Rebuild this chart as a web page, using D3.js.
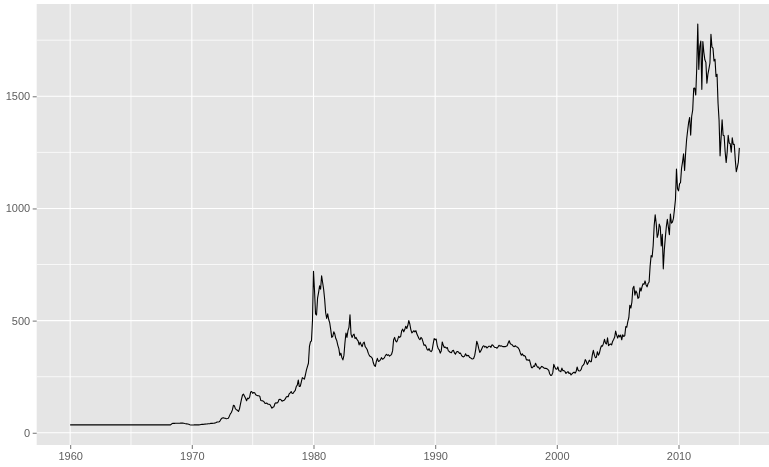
<!DOCTYPE html>
<html>
<head>
<meta charset="utf-8">
<script src="https://cdn.jsdelivr.net/npm/d3@7"></script>
<style>
  body { margin: 0; background: #fff; }
  svg { display: block; will-change: transform; }
  .tick text { font-family: "Liberation Sans", Arial, sans-serif; font-size: 11px; fill: #5e5e5e; }
</style>
</head>
<body>
<div id="chart"></div>
<script>
// monthly gold price (USD / oz), one array per decade, first value = January
var startYear = 1960;

var p1960s = [
  35.1,35.1,35.1,35.1,35.1,35.1,35.2,35.2,35.3,35.5,35.4,35.3,
  35.3,35.2,35.2,35.2,35.2,35.2,35.2,35.2,35.2,35.2,35.2,35.2,
  35.1,35.1,35.1,35.1,35.1,35.1,35.1,35.1,35.1,35.1,35.1,35.1,
  35.1,35.1,35.1,35.1,35.1,35.1,35.1,35.1,35.1,35.1,35.1,35.1,
  35.1,35.1,35.1,35.1,35.1,35.1,35.1,35.1,35.1,35.1,35.1,35.1,
  35.1,35.1,35.1,35.1,35.1,35.1,35.1,35.1,35.1,35.1,35.1,35.1,
  35.2,35.2,35.2,35.2,35.2,35.2,35.2,35.2,35.2,35.2,35.2,35.2,
  35.2,35.2,35.2,35.2,35.2,35.2,35.2,35.2,35.2,35.2,35.2,35.2,
  35.2,35.2,35.2,35.3,39.0,41.8,42.0,42.1,42.2,42.2,42.4,42.6,
  42.8,43.0,43.2,43.2,42.8,41.5,40.5,39.8,39.0,37.8,36.0,35.0
];

var p1970s = [
  34.9,35.0,35.1,35.4,35.6,35.4,35.3,35.4,36.0,37.0,37.3,37.4,
  37.9,38.7,38.9,39.0,40.2,40.1,41.0,42.5,42.0,42.5,42.9,43.5,
  45.7,48.3,48.3,49.0,54.6,62.1,65.7,67.0,65.5,64.9,62.9,63.9,
  65.1,74.2,84.4,90.5,102.0,122.5,120.2,106.8,103.0,100.1,94.8,106.7,
  129.2,150.2,168.4,172.2,163.3,154.1,143.0,154.6,151.8,158.8,181.7,183.9,
  175.8,179.6,178.2,169.9,167.2,164.8,165.2,163.1,144.3,142.9,142.2,139.3,
  131.6,131.2,132.6,127.9,126.9,125.8,117.9,109.5,114.3,116.4,130.6,133.6,
  132.3,136.3,148.5,149.2,146.6,140.8,143.4,144.9,149.7,158.5,162.2,160.4,
  173.2,178.2,183.7,175.4,176.3,183.7,188.7,206.2,212.4,235.0,206.1,207.8,
  227.3,245.7,242.1,239.2,257.6,279.1,294.7,310.0,385.0,405.0,410.0,500.0
];

var p1980s = [
  720,635,530,525,600,625,655,640,700,670,640,595,
  535,510,530,505,490,460,425,430,450,440,420,410,
  390,375,345,355,335,325,345,400,445,425,455,470,
  526,440,425,435,440,420,425,415,410,392,404,392,
  384,400,404,384,378,370,355,345,340,338,332,312,
  300,296,318,332,318,320,325,335,328,330,335,345,
  350,345,348,342,345,350,365,415,425,410,405,415,
  430,425,430,455,462,450,460,475,465,478,500,485,
  460,445,450,455,450,455,440,430,420,415,425,420,
  405,390,392,385,372,368,375,365,362,368,395,420
];

var p1990s = [
  415,418,390,375,370,355,365,405,390,380,382,377,
  380,365,362,358,357,366,368,356,350,360,362,360,
  354,355,345,340,338,342,352,343,345,344,336,334,
  330,329,332,345,372,408,395,375,358,365,375,385,
  388,382,385,378,382,386,386,381,392,390,384,380,
  380,377,383,390,386,388,386,384,384,384,386,388,
  400,410,398,394,392,386,384,388,384,382,378,370,
  356,346,352,344,344,340,325,325,323,325,308,290,
  290,298,296,310,300,292,293,284,290,296,294,290,
  287,287,286,283,278,262,256,257,268,305,293,284
];

var p2000s = [
  283.3,293.7,276.8,275.1,272.3,288.2,276.8,277.0,273.7,264.5,269.1,272.7,
  264.5,266.7,257.7,263.2,267.5,270.6,265.9,273.0,293.1,278.8,275.5,276.5,
  282.3,296.9,301.4,308.2,326.6,318.5,304.7,312.8,323.7,316.9,317.1,347.2,
  367.5,347.5,334.9,336.8,361.4,346.0,354.8,375.6,388.0,386.3,398.4,416.3,
  399.8,395.9,423.7,388.5,393.3,395.8,391.4,407.3,415.7,425.6,453.4,435.6,
  422.2,435.5,427.5,435.7,414.5,437.1,429.0,433.3,473.3,470.8,495.7,513.0,
  568.8,556.0,582.0,644.0,653.0,613.5,632.5,623.5,599.3,603.8,646.7,632.0,
  650.5,664.2,661.8,677.0,659.1,650.5,665.5,672.0,743.0,789.5,783.5,833.8,
  923.3,971.5,933.5,871.0,885.8,930.3,918.0,833.0,884.5,730.8,814.5,869.8,
  919.5,952.0,916.5,883.3,975.5,934.5,939.0,955.5,995.8,1040.0,1175.8,1087.5
];

var p2010s = [
  1078.5,1109.5,1115.5,1179.3,1207.5,1244.0,1169.0,1246.0,1307.5,1346.8,1383.5,1405.5,
  1327.0,1411.0,1439.0,1535.5,1536.5,1505.5,1628.5,1822.0,1620.0,1722.0,1746.0,1531.0,
  1744.0,1696.3,1662.5,1651.3,1558.0,1598.5,1622.0,1648.5,1776.0,1719.0,1714.5,1657.5,
  1664.8,1588.5,1598.3,1469.0,1394.5,1234.5,1314.5,1394.8,1326.5,1324.0,1253.0,1204.5,
  1251.0,1326.5,1291.8,1288.5,1250.5,1315.0,1285.3,1285.8,1216.5,1164.3,1182.8,1206.0,
  1270.0
];

var prices = [].concat(p1960s, p1970s, p1980s, p1990s, p2000s, p2010s);
var data = prices.map(function(v, i) { return { t: startYear + i / 12, v: v }; });

var xMajor = [1960, 1970, 1980, 1990, 2000, 2010];
var xMinor = [1965, 1975, 1985, 1995, 2005, 2015];
var yMajor = [0, 500, 1000, 1500];
var yMinor = [250, 750, 1250, 1750];

// set the dimensions of the panel (the picture is cut on the right side)
var W = 769, H = 467;
var panel = { left: 36.7, top: 4, bottom: 445, right: 772.8 };

var svg = d3.select("#chart")
  .append("svg")
    .attr("width", W)
    .attr("height", H);

// ggplot style 5% expansion on both axes
var tExt = d3.extent(data, function(d) { return d.t; });
var vExt = d3.extent(data, function(d) { return d.v; });
var tPad = (tExt[1] - tExt[0]) * 0.05;
var vPad = (vExt[1] - vExt[0]) * 0.05;

var x = d3.scaleLinear()
  .domain([tExt[0] - tPad, tExt[1] + tPad])
  .range([panel.left, panel.right]);

var y = d3.scaleLinear()
  .domain([vExt[0] - vPad, vExt[1] + vPad])
  .range([panel.bottom, panel.top]);

// panel background
svg.append("rect")
  .attr("x", panel.left)
  .attr("y", panel.top)
  .attr("width", panel.right - panel.left)
  .attr("height", panel.bottom - panel.top)
  .attr("fill", "#e5e5e5");

// minor grid
svg.selectAll("vMinor")
  .data(xMinor)
  .enter()
  .append("line")
    .attr("x1", function(d) { return x(d); })
    .attr("x2", function(d) { return x(d); })
    .attr("y1", panel.top)
    .attr("y2", panel.bottom)
    .attr("stroke", "#fafafa")
    .attr("stroke-width", 0.9);

svg.selectAll("hMinor")
  .data(yMinor)
  .enter()
  .append("line")
    .attr("x1", panel.left)
    .attr("x2", panel.right)
    .attr("y1", function(d) { return y(d); })
    .attr("y2", function(d) { return y(d); })
    .attr("stroke", "#fafafa")
    .attr("stroke-width", 0.9);

// major grid
svg.selectAll("vMajor")
  .data(xMajor)
  .enter()
  .append("line")
    .attr("x1", function(d) { return x(d); })
    .attr("x2", function(d) { return x(d); })
    .attr("y1", panel.top)
    .attr("y2", panel.bottom)
    .attr("stroke", "#ffffff")
    .attr("stroke-width", 1.1);

svg.selectAll("hMajor")
  .data(yMajor)
  .enter()
  .append("line")
    .attr("x1", panel.left)
    .attr("x2", panel.right)
    .attr("y1", function(d) { return y(d); })
    .attr("y2", function(d) { return y(d); })
    .attr("stroke", "#ffffff")
    .attr("stroke-width", 1.1);

// price line
var line = d3.line()
  .x(function(d) { return x(d.t); })
  .y(function(d) { return y(d.v); });

svg.append("path")
  .datum(data)
  .attr("fill", "none")
  .attr("stroke", "#000")
  .attr("stroke-width", 1.1)
  .attr("stroke-linejoin", "round")
  .attr("d", line);

// axes
var xAxis = svg.append("g")
  .attr("transform", "translate(0," + panel.bottom + ")")
  .call(d3.axisBottom(x).tickValues(xMajor).tickFormat(d3.format("d")).tickSize(4).tickPadding(3));

var yAxis = svg.append("g")
  .attr("transform", "translate(" + panel.left + ",0)")
  .call(d3.axisLeft(y).tickValues(yMajor).tickFormat(d3.format("d")).tickSize(4).tickPadding(2.5));

[xAxis, yAxis].forEach(function(g) {
  g.select(".domain").remove();
  g.selectAll(".tick line").attr("stroke", "#7f7f7f").attr("stroke-width", 1.1);
});
</script>
</body>
</html>
